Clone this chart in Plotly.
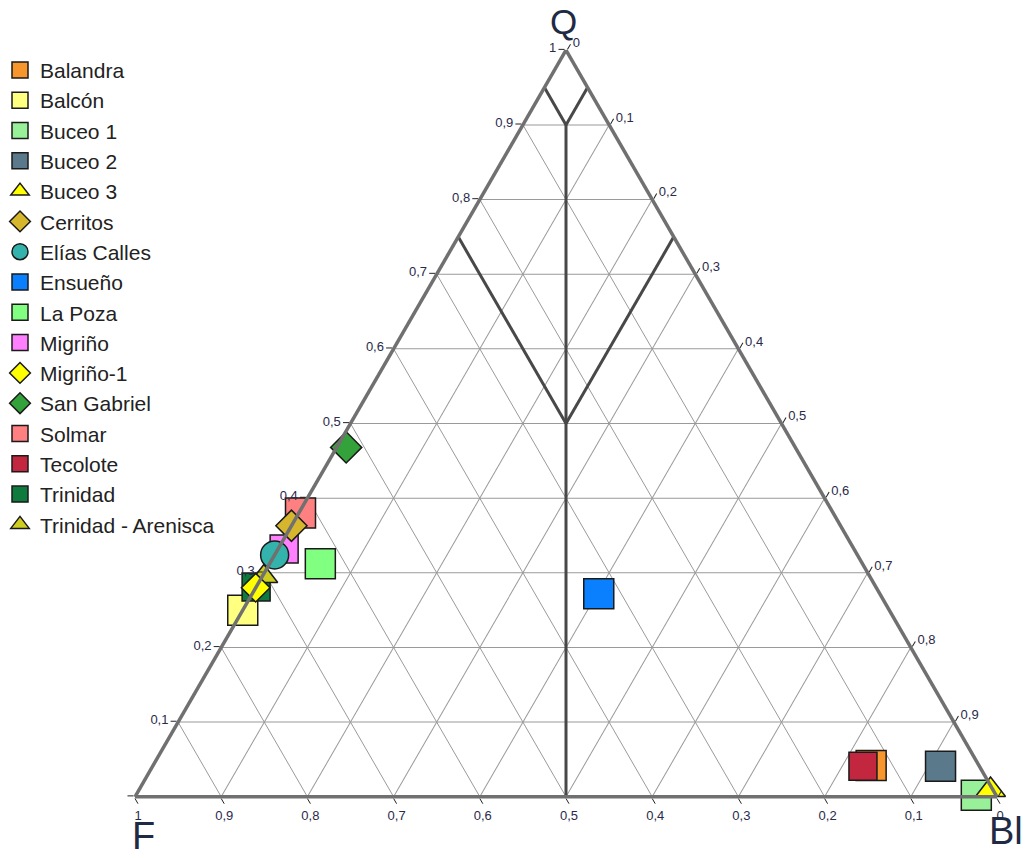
import plotly.graph_objects as go

# ---- sample data (Q, F, Bl fractions) ----
samples = ["Balandra", "Balcón", "Buceo 1", "Buceo 2", "Buceo 3", "Cerritos",
           "Elías Calles", "Ensueño", "La Poza", "Migriño", "Migriño-1",
           "San Gabriel", "Solmar", "Tecolote", "Trinidad", "Trinidad - Arenisca"]
q_vals  = [0.042, 0.250, 0.002, 0.041, 0.009, 0.363, 0.324, 0.272, 0.312, 0.332, 0.280, 0.468, 0.380, 0.041, 0.281, 0.295]
bl_vals = [0.833, 0.000, 0.975, 0.914, 0.988, 0.000, 0.000, 0.402, 0.059, 0.007, 0.000, 0.011, 0.002, 0.824, 0.000, 0.002]
f_vals  = [round(1 - q - b, 3) for q, b in zip(q_vals, bl_vals)]

colors  = ["#F7962C", "#FFFF80", "#98F098", "#5A7A8C", "#FFFF00", "#D6B62C",
           "#33B3AB", "#0A80FF", "#80FF80", "#FF80FF", "#FFFF00",
           "#34A23A", "#FF8080", "#C2273F", "#0E7A3E", "#CDCD22"]
symbols = ["square", "square", "square", "square", "triangle-up", "diamond",
           "circle", "square", "square", "square", "diamond",
           "diamond", "square", "square", "square", "triangle-up"]
sizes   = [30, 30, 30, 30, 26, 24, 28, 30, 30, 28, 22, 24, 30, 28, 28, 24]

# drawing order (legend keeps the alphabetical order above)
draw_order = ["Balandra", "Balcón", "Buceo 1", "Buceo 2", "Ensueño", "La Poza",
              "Migriño", "Solmar", "Tecolote", "Trinidad", "Cerritos",
              "Elías Calles", "Trinidad - Arenisca", "Migriño-1", "San Gabriel", "Buceo 3"]

# ---- axis ticks ----
tick_vals = [0, 0.1, 0.2, 0.3, 0.4, 0.5, 0.6, 0.7, 0.8, 0.9, 1]
q_tick_text  = ["", "0,1", "0,2", "0,3", "0,4", "0,5", "0,6", "0,7", "0,8", "0,9", "1"]
f_tick_text  = ["0", "0,1", "0,2", "0,3", "0,4", "0,5", "0,6", "0,7", "0,8", "0,9", "1"]
bl_tick_text = ["0", "0,1", "0,2", "0,3", "0,4", "0,5", "0,6", "0,7", "0,8", "0,9", ""]

# ---- classification field boundaries (Q, F, Bl end points) ----
bnd_q  = [[0.95, 0.90], [0.95, 0.90], [0.75, 0.50], [0.75, 0.50], [0.90, 0.00]]
bnd_f  = [[0.05, 0.05], [0.00, 0.05], [0.25, 0.25], [0.00, 0.25], [0.05, 0.50]]
bnd_bl = [[0.00, 0.05], [0.05, 0.05], [0.00, 0.25], [0.25, 0.25], [0.05, 0.50]]

W, H = 1029, 858

fig = go.Figure()

for i in range(len(bnd_q)):
    fig.add_trace(go.Scatterternary(
        a=bnd_q[i], b=bnd_f[i], c=bnd_bl[i], mode="lines",
        line=dict(color="#484848", width=3), showlegend=False, hoverinfo="skip"))

for name in draw_order:
    i = samples.index(name)
    fig.add_trace(go.Scatterternary(
        a=[q_vals[i]], b=[f_vals[i]], c=[bl_vals[i]], mode="markers", name=name,
        legendrank=i + 1, legendgroup=name, cliponaxis=False,
        marker=dict(symbol=symbols[i], size=sizes[i], color=colors[i],
                    line=dict(color="#1a1a1a", width=1.5))))

def axis(texts):
    return dict(
        min=0, tickmode="array", tickvals=tick_vals, ticktext=texts,
        showgrid=True, gridcolor="#9a9a9a", gridwidth=1,
        linecolor="#707070", linewidth=3.5, ticks="outside", ticklen=6,
        tickcolor="#222222", tickfont=dict(size=13, color="#2a2a4a", family="Liberation Sans"),
        title=dict(text=""),
    )

def px(x, y):
    return x / W, 1 - y / H

annotations = []
for label, (x, y), size, yanch in [("Q", (563, 0), 35, "top"), ("F", (143, 836), 38, "middle"),
                                   ("Bl", (1006, 831), 38, "middle")]:
    ax, ay = px(x, y)
    annotations.append(dict(text=label, x=ax, y=ay, xref="paper", yref="paper",
                            xanchor="center", yanchor=yanch, showarrow=False,
                            font=dict(size=size, color="#1f2a44", family="Liberation Sans")))

fig.update_layout(
    width=W, height=H,
    margin=dict(l=0, r=0, t=0, b=0),
    paper_bgcolor="white",
    font=dict(family="Liberation Sans", color="#222222"),
    ternary=dict(
        domain=dict(x=[135 / W, 997 / W], y=[61 / H, 808 / H]),
        sum=1, bgcolor="white",
        aaxis=axis(q_tick_text),
        baxis=axis(f_tick_text),
        caxis=axis(bl_tick_text),
    ),
    annotations=annotations,
    legend=dict(x=0.0, y=0.942, xanchor="left", yanchor="top",
                font=dict(size=21, family="Liberation Sans", color="#222222"),
                bgcolor="rgba(0,0,0,0)", itemsizing="trace", traceorder="normal",
                tracegroupgap=3),
)

fig.write_html("out.html", config={"displayModeBar": False},
               post_script="document.body.style.margin='0px';")
